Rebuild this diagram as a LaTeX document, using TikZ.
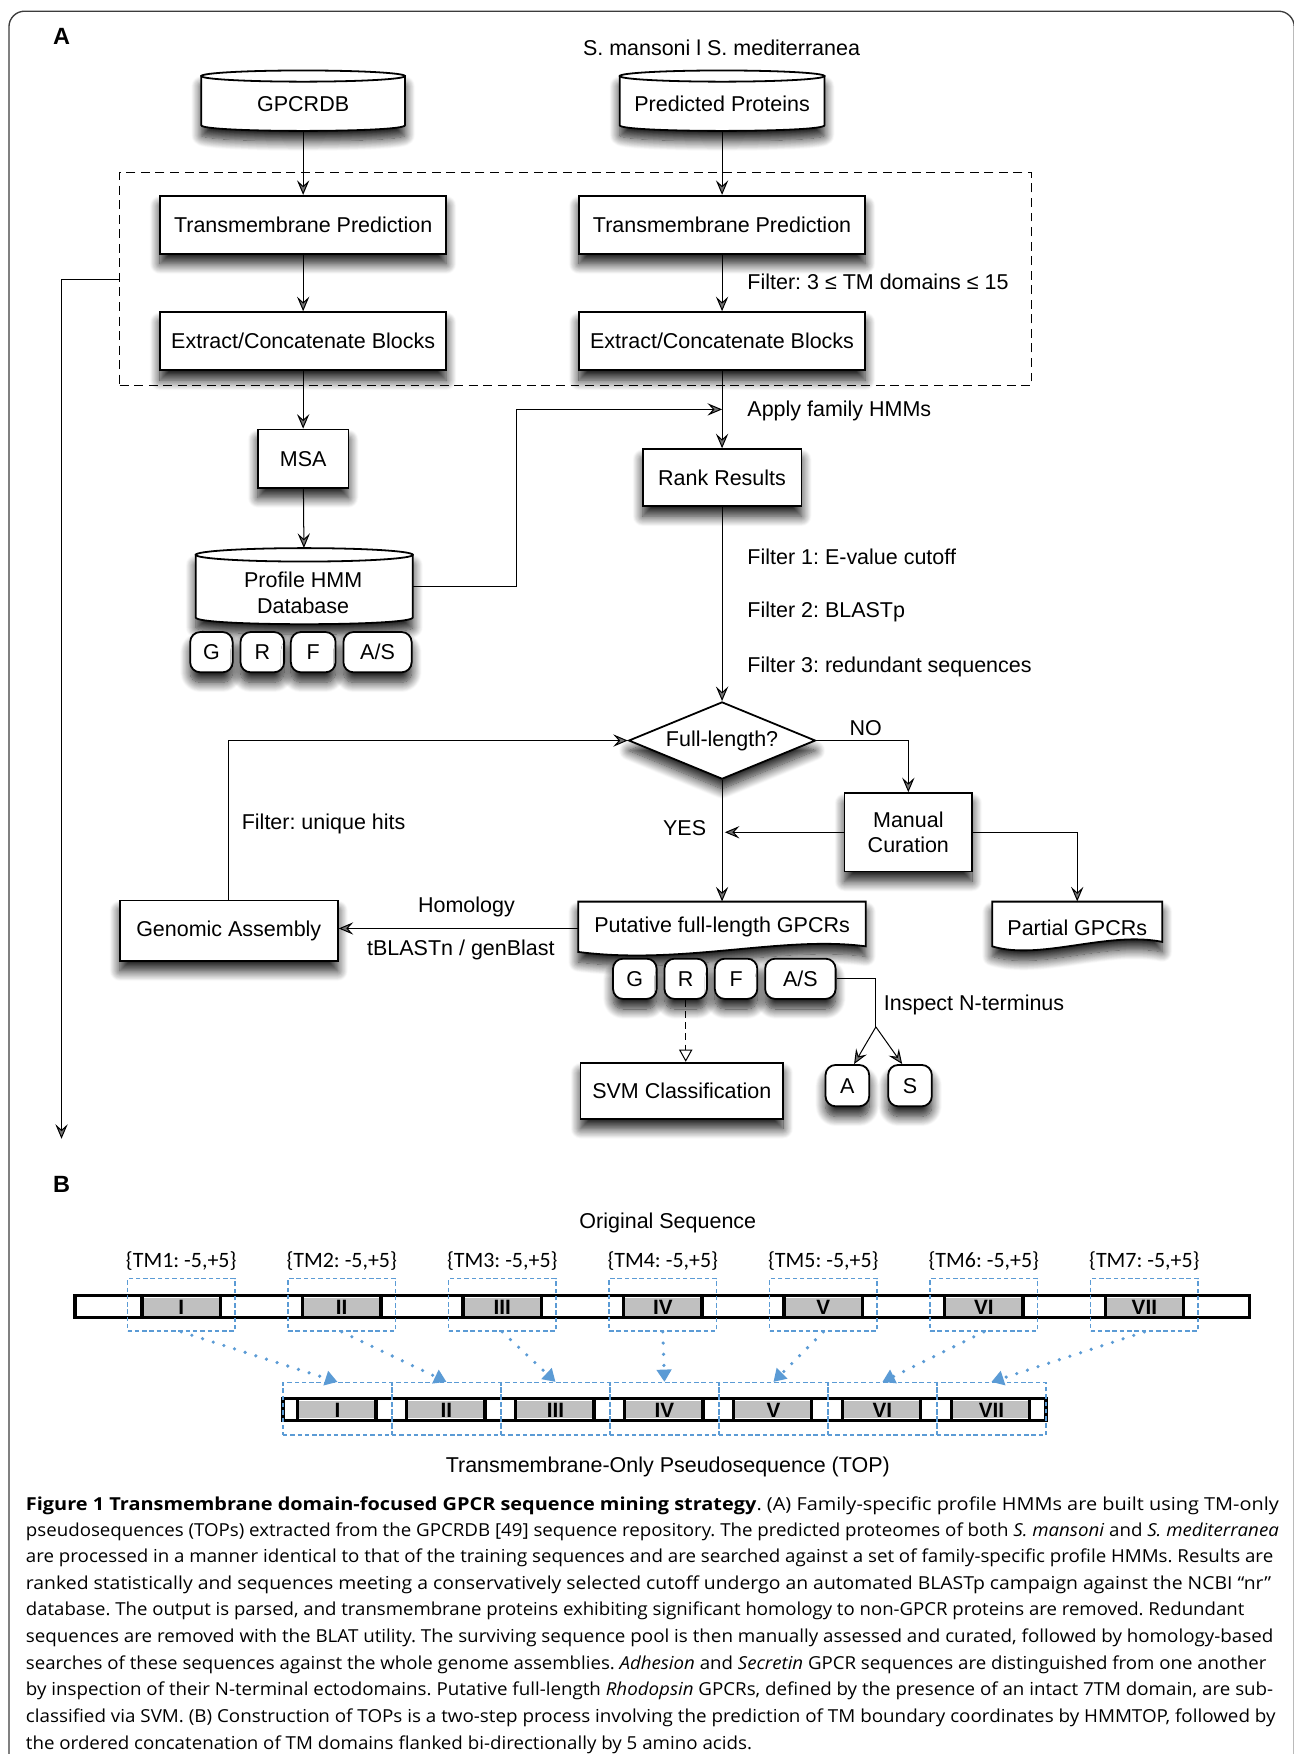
\documentclass[tikz,border=0pt]{standalone}
\usepackage{fontspec}
\usepackage{graphicx}
\setmainfont{Liberation Sans}
\newfontfamily\capfont{Open Sans}
\newfontfamily\calfont{Carlito}
\usetikzlibrary{arrows.meta,shapes.geometric,shadows.blur}
\definecolor{tmblue}{RGB}{91,155,213}
\definecolor{segray}{RGB}{192,192,192}
\definecolor{framec}{RGB}{60,60,60}
\newcommand\capline[4]{\node[anchor=base west,inner sep=0pt,font=\capfont\fontsize{16}{19}\selectfont] (#1) at (23,#2) {\resizebox{#3pt}{\height}{#4}};}
\begin{document}
\frenchspacing
\begin{tikzpicture}[x=1pt,y=-1pt,
  every node/.style={font=\fontsize{19.2}{23}\selectfont},
  shad/.style={blur shadow={shadow xshift=0pt,shadow yshift=-9pt,shadow blur radius=9pt,shadow blur steps=14,shadow opacity=90}},
  box/.style={draw,line width=1.6pt,fill=white,inner sep=0pt,shad},
  shapeline/.style={draw,line width=1.6pt,fill=white,shad},
  tagbox/.style={box,rounded corners=9pt,minimum height=36pt},
  conn/.style={line width=0.9pt,-{Stealth[length=13pt,width=11pt,inset=5pt]}},
  plainline/.style={line width=0.9pt},
  lbl/.style={inner sep=0pt},
  seg/.style={line width=3pt},
  bluebox/.style={draw=tmblue,dash pattern=on 4pt off 2.5pt,line width=1.3pt,inner sep=0pt},
  bluearrow/.style={tmblue,line width=3.2pt,line cap=round,dash pattern=on 0pt off 10pt,-{Triangle[length=11pt,width=13pt]}},
  roman/.style={lbl,font=\fontsize{18.5}{20}\selectfont\bfseries},
]
\useasboundingbox (0,0) rectangle (1156,1568);
% frame
\draw[framec,line width=1.2pt,rounded corners=14pt] (8,1600) -- (8,10) -- (1157,10) -- (1157,1600);
\node[font=\fontsize{21}{24}\selectfont\bfseries] (pa) at (55,33) {A};
\node (smsm) at (645,43) {S. mansoni l S. mediterranea};

% dashed group box
\node[draw,dash pattern=on 8pt off 5pt,line width=1pt,minimum width=815pt,minimum height=191pt,inner sep=0pt] (dbox) at (514.5,249.5) {};

% cylinders
\path[shapeline] (180,68) -- (180,112) .. controls (180,118.7) and (362,118.7) .. (362,112) -- (362,68) -- cycle;
\draw[line width=1.6pt,fill=white] (271,68) ellipse [x radius=91, y radius=5];
\node[minimum width=182pt,minimum height=54pt,inner sep=0pt] (gpcrdb) at (271,90) {};
\node[lbl] (gpcrdbt) at (271,93) {GPCRDB};

\path[shapeline] (554,68) -- (554,112) .. controls (554,118.7) and (737,118.7) .. (737,112) -- (737,68) -- cycle;
\draw[line width=1.6pt,fill=white] (645.5,68) ellipse [x radius=91.5, y radius=5];
\node[minimum width=183pt,minimum height=54pt,inner sep=0pt] (pp) at (645.5,90) {};
\node[lbl] (ppt) at (645.5,93) {Predicted Proteins};

% left column
\node[box,minimum width=256pt,minimum height=52pt] (tp1) at (271,201) {Transmembrane Prediction};
\node[box,minimum width=256pt,minimum height=52pt] (ecb1) at (271,305) {Extract/Concatenate Blocks};
\node[box,minimum width=81pt,minimum height=52pt] (msa) at (271,410) {MSA};

\path[shapeline] (175,496) -- (175,552) .. controls (175,560) and (369,560) .. (369,552) -- (369,496) -- cycle;
\draw[line width=1.6pt,fill=white] (272,496) ellipse [x radius=97, y radius=6];
\node[minimum width=194pt,minimum height=68pt,inner sep=0pt] (hmmdb) at (272,524) {};
\node[lbl,align=center] (hmmdbt) at (271,530) {Profile HMM\\Database};

\node[tagbox,minimum width=38pt] (g1) at (189,583) {G};
\node[tagbox,minimum width=39pt] (r1) at (234.5,583) {R};
\node[tagbox,minimum width=40pt] (f1) at (280,583) {F};
\node[tagbox,minimum width=61pt] (as1) at (337.5,583) {A/S};

% right column
\node[box,minimum width=256pt,minimum height=52pt] (tp2) at (645.5,201) {Transmembrane Prediction};
\node[box,minimum width=256pt,minimum height=52pt] (ecb2) at (645.5,305) {Extract/Concatenate Blocks};
\node[box,minimum width=142pt,minimum height=51pt] (rank) at (645.5,427) {Rank Results};
\node[box,diamond,aspect=2.4,minimum width=167pt,minimum height=69pt] (dia) at (645.5,662) {Full-length?};
\node[box,minimum width=114pt,minimum height=70pt,align=center] (mc) at (812,744) {Manual\\Curation};

% documents
\path[shapeline] (517,806) -- (774,806) -- (774,846) .. controls (700,836) and (610,863) .. (517,851) -- cycle;
\node[lbl,minimum width=257pt,minimum height=48pt] (put) at (645.5,830) {};
\node[lbl] (putt) at (645.5,829) {Putative full-length GPCRs};
\path[shapeline] (887,806) -- (1039,806) -- (1039,842) .. controls (990,832) and (930,859) .. (887,846) -- cycle;
\node[lbl,minimum width=152pt,minimum height=44pt] (part) at (963,828) {};
\node[lbl] (partt) at (963,829) {Partial GPCRs};

\node[tagbox,minimum width=39pt] (g2) at (567.5,875) {G};
\node[tagbox,minimum width=38pt] (r2) at (613,875) {R};
\node[tagbox,minimum width=38pt] (f2) at (658,875) {F};
\node[tagbox,minimum width=63pt] (as2) at (715.5,875) {A/S};

\node[box,minimum width=195pt,minimum height=54pt] (gen) at (204.5,832) {Genomic Assembly};
\node[box,minimum width=181pt,minimum height=50pt] (svm) at (609.5,975) {SVM Classification};
\node[tagbox,minimum width=39pt,minimum height=37pt] (ta) at (757.5,970.5) {A};
\node[tagbox,minimum width=39pt,minimum height=37pt] (ts) at (813.5,970.5) {S};

% labels
\node[lbl,anchor=west] (lfilt) at (668,252) {Filter: 3 ≤ TM domains ≤ 15};
\node[lbl,anchor=west] (lapply) at (668,367) {Apply family HMMs};
\node[lbl,anchor=west] (lf1) at (668,498) {Filter 1: E-value cutoff};
\node[lbl,anchor=west] (lf2) at (668,547) {Filter 2: BLASTp};
\node[lbl,anchor=west] (lf3) at (668,596) {Filter 3: redundant sequences};
\node[lbl] (lno) at (774,651) {NO};
\node[lbl] (lyes) at (612,740) {YES};
\node[lbl,anchor=west] (luniq) at (216,737) {Filter: unique hits};
\node[lbl] (lhom) at (417,811) {Homology};
\node[lbl] (ltbl) at (412,849) {tBLASTn / genBlast};
\node[lbl,anchor=west] (linsp) at (790,898) {Inspect N-terminus};

% coordinates
\coordinate (jhmm) at (645.5,366);
\coordinate (yj) at (648,744);
\coordinate (fork) at (783,918);
\coordinate (lend) at (55,1018);

% connectors
\draw[conn] (gpcrdb) -- (tp1);
\draw[conn] (pp) -- (tp2);
\draw[conn] (tp1) -- (ecb1);
\draw[conn] (tp2) -- (ecb2);
\draw[conn] (ecb1) -- (msa);
\draw[conn] (msa) -- (hmmdb);
\draw[conn] (ecb2) -- (rank);
\draw[conn] (hmmdb.east) -- (462,524) |- (jhmm);
\draw[conn] (rank) -- (dia);
\draw[conn] (dia.east) -| (mc.north);
\draw[conn] (dia) -- (put);
\draw[conn] (mc.west) -- (yj);
\draw[conn] (mc.east) -| (part.north);
\draw[conn] (put.west) -- (gen.east |- put.west);
\draw[conn] (gen.north) |- (dia.west);
\draw[plainline] (as2.east) -| (fork);
\draw[conn] (fork) -- ([xshift=6pt]ta.north);
\draw[conn] (fork) -- ([xshift=-7pt]ts.north);
\draw[line width=0.9pt,dash pattern=on 6pt off 4pt,-{Triangle[open,length=11pt,width=12pt]}] (r2.south) -- (r2.south |- svm.north);
\draw[conn] (dbox.west) -- (55,249.5) -- (lend);

% Panel B
\node[font=\fontsize{21}{24}\selectfont\bfseries] (pb) at (55,1059) {B};
\node (os) at (597,1093) {Original Sequence};
\node (topl) at (597,1311) {Transmembrane-Only Pseudosequence (TOP)};

\draw[seg,fill=white] (67,1158) rectangle (1117,1178);
\foreach \i/\r in {1/I,2/II,3/III,4/IV,5/V,6/VI,7/VII} {
  \pgfmathsetmacro\c{162+143.5*(\i-1)}
  \fill[segray] (\c-35,1160) rectangle (\c+35,1176);
  \draw[seg] (\c-35,1158) -- (\c-35,1178) (\c+35,1158) -- (\c+35,1178);
  \node[roman] (ro\i) at (\c,1169) {\r};
  \node[bluebox,minimum width=96pt,minimum height=47pt] (o\i) at (\c,1166.5) {};
  \node[font=\calfont\fontsize{19.6}{22}\selectfont] (tl\i) at (\c,1127) {\{TM\i: -5,+5\}};
}
\draw[seg,fill=white] (253,1250) rectangle (935,1270);
\foreach \i/\r in {1/I,2/II,3/III,4/IV,5/V,6/VI,7/VII} {
  \pgfmathsetmacro\L{253+97.43*(\i-1)}
  \fill[segray] (\L+13,1252) rectangle (\L+83,1268);
  \draw[seg] (\L+13,1250) -- (\L+13,1270) (\L+83,1250) -- (\L+83,1270);
  \node[roman] (rt\i) at (\L+48.7,1261) {\r};
  \node[bluebox,minimum width=97.4pt,minimum height=47pt] (t\i) at (\L+48.7,1259.5) {};
}
\foreach \i in {1,...,7} {
  \draw[bluearrow] (o\i.south) -- (t\i.north);
}

% caption
\capline{c1}{1350}{1120}{\textbf{Figure 1 Transmembrane domain-focused GPCR sequence mining strategy}. (A) Family-specific profile HMMs are built using TM-only}
\capline{c2}{1373.5}{1120}{pseudosequences (TOPs) extracted from the GPCRDB [49] sequence repository. The predicted proteomes of both \textit{S. mansoni} and \textit{S. mediterranea}}
\capline{c3}{1397}{1115}{are processed in a manner identical to that of the training sequences and are searched against a set of family-specific profile HMMs. Results are}
\capline{c4}{1420.5}{1113}{ranked statistically and sequences meeting a conservatively selected cutoff undergo an automated BLASTp campaign against the NCBI “nr”}
\capline{c5}{1444}{1089}{database. The output is parsed, and transmembrane proteins exhibiting significant homology to non-GPCR proteins are removed. Redundant}
\capline{c6}{1468}{1115}{sequences are removed with the BLAT utility. The surviving sequence pool is then manually assessed and curated, followed by homology-based}
\capline{c7}{1492}{1109}{searches of these sequences against the whole genome assemblies. \textit{Adhesion} and \textit{Secretin} GPCR sequences are distinguished from one another}
\capline{c8}{1516}{1115}{by inspection of their N-terminal ectodomains. Putative full-length \textit{Rhodopsin} GPCRs, defined by the presence of an intact 7TM domain, are sub-}
\capline{c9}{1540}{1117}{classified via SVM. (B) Construction of TOPs is a two-step process involving the prediction of TM boundary coordinates by HMMTOP, followed by}
\capline{c10}{1564}{649}{the ordered concatenation of TM domains flanked bi-directionally by 5 amino acids.}
\end{tikzpicture}
\end{document}
